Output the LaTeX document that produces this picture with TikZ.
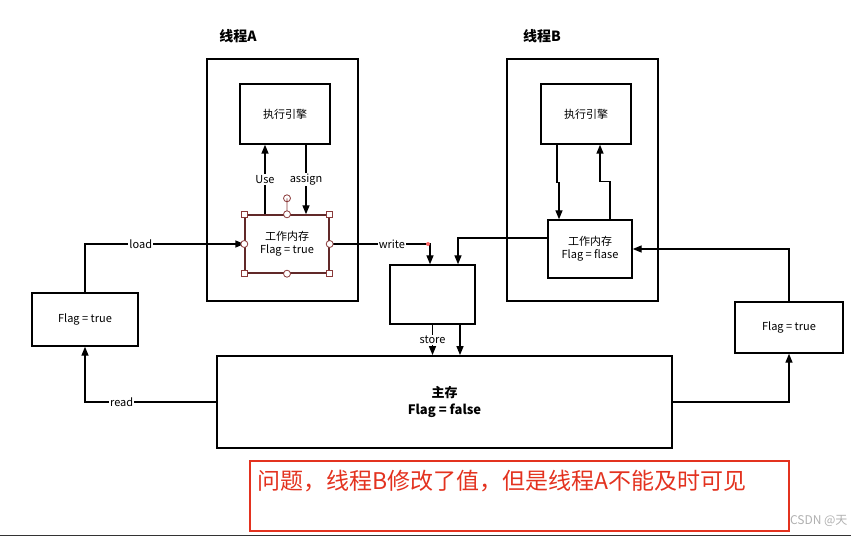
\documentclass[tikz,border=0pt]{standalone}
\usepackage{fontspec}
\setmainfont{Noto Sans CJK SC}
\usetikzlibrary{arrows.meta,calc}
\definecolor{hdlred}{HTML}{8a3a3a}
\definecolor{notered}{HTML}{e3321f}
\definecolor{wmgray}{HTML}{b0b0b0}

\begin{document}
\begin{tikzpicture}[x=1pt,y=-1pt,
  font=\fontsize{11}{13}\selectfont,
  box/.style={draw,line width=1.4pt,fill=white,inner sep=2pt,align=center},
  thr/.style={draw,line width=1.4pt,minimum width=151pt,minimum height=242pt},
  e/.style={-{Triangle[length=9pt,width=7pt]},line width=1.4pt},
  lbl/.style={fill=white,inner sep=1pt},
  ttl/.style={font=\fontsize{14}{16}\selectfont\bfseries},
  hdl/.style={draw=hdlred,fill=white,line width=0.8pt}]
  \useasboundingbox (0,0) rectangle (851,537);
  % threads
  \node[ttl] (tA) at (238,36) {线程A};
  \node[ttl] (tB) at (542,36) {线程B};
  \node[thr] (thrA) at (282.5,180) {};
  \node[thr] (thrB) at (582.5,180) {};
  \node[box,minimum width=90pt,minimum height=60pt] (engA) at (285,114) {执行引擎};
  \node[box,minimum width=90pt,minimum height=60pt] (engB) at (586,114) {执行引擎};
  \node[box,draw=hdlred!70!black,minimum width=84pt,minimum height=58pt] (wmA) at (287,244) {工作内存\\Flag = true};
  \node[box,minimum width=84pt,minimum height=58pt] (wmB) at (590,249) {工作内存\\Flag = flase};
  % main memory and copies
  \node[box,minimum width=85pt,minimum height=59pt] (mid) at (432.5,294.5) {};
  \node[box,line width=1.8pt,minimum width=455pt,minimum height=92pt,font=\fontsize{13}{17}\selectfont\bfseries] (main) at (444.5,402) {主存\\Flag = false};
  \node[box,minimum width=106pt,minimum height=53pt] (flagL) at (85,319.5) {Flag = true};
  \node[box,minimum width=108pt,minimum height=51pt] (flagR) at (789,327.5) {Flag = true};
  % thread A
  \draw[e] ([xshift=-22pt]wmA.north) -- node[lbl]{Use} ([xshift=-22pt]wmA.north |- engA.south);
  \draw[e] ([xshift=21pt]engA.south) -- node[lbl]{assign} ([xshift=21pt]engA.south |- wmA.north);
  % thread B
  \draw[e] ([xshift=-29pt]engB.south) -- ++(0,38) -| ([xshift=-31pt]wmB.north);
  \draw[e] ([xshift=20pt]wmB.north) -- ++(0,-38) -| ([xshift=14pt]engB.south);
  % memory traffic
  \draw[e] (flagL.north) |- node[lbl,pos=0.675]{load} (wmA.west);
  \draw[e] (wmA.east) -| node[lbl,pos=0.31]{write} ([xshift=-2.5pt]mid.north);
  \draw[e] ([yshift=11pt]wmB.west) -| ([xshift=25.5pt]mid.north);
  \draw[e] (mid.south) -- node[lbl]{store} (mid.south |- main.north);
  \draw[e] ([xshift=27.5pt]mid.south) -- ([xshift=27.5pt]mid.south |- main.north);
  \draw[e] (main.west) -| node[lbl,pos=0.36]{read} (flagL.south);
  \draw[e] (main.east) -| (flagR.south);
  \draw[e] (flagR.north) |- (wmB.east);
  % selection handles
  \draw[hdl] (wmA.north) -- ++(0,-16) circle (3.5);
  \foreach \a in {north,south,east,west} \draw[hdl] (wmA.\a) circle (3.5);
  \foreach \a in {north west,north east,south west,south east} \draw[hdl] ($(wmA.\a)+(-3,-3)$) rectangle ++(6,6);
  \fill[red!60] (428,244) circle (2);
  % note
  \node[draw=notered,line width=1.4pt,minimum width=539pt,minimum height=70pt] (note) at (519.5,496) {};
  \node[text=notered,anchor=west,font=\fontsize{23}{27}\selectfont] (qtxt) at (254,481) {问题，线程B修改了值，但是线程A不能及时可见};
  \node[text=wmgray,anchor=east,font=\fontsize{12}{14}\selectfont] (wm) at (851,521) {CSDN @天};
  \draw[line width=1.6pt,black!80] (0,535.5) -- (851,535.5);
\end{tikzpicture}
\end{document}
